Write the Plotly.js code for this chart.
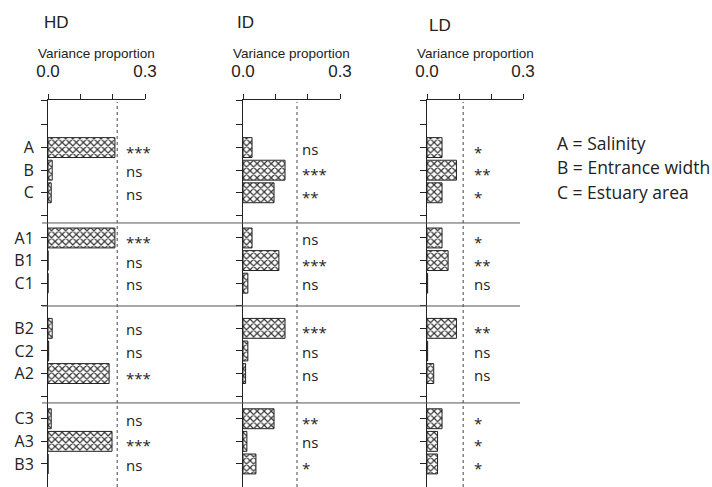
<!DOCTYPE html>
<html>
<head>
<meta charset="utf-8">
<script src="https://cdn.plot.ly/plotly-3.0.1.min.js"></script>
<style>html,body{margin:0;padding:0;background:#fff;}#chart{width:712px;height:487px;}</style>
</head>
<body>
<div id="chart"></div>
<script>
// ---- data ----
const groups = [["A","B","C"],["A1","B1","C1"],["B2","C2","A2"],["C3","A3","B3"]];
const panelNames = ["HD","ID","LD"];
const hdValues = [0.207, 0.013, 0.010, 0.207, 0, 0, 0.013, 0.002, 0.189, 0.010, 0.198, 0];
const idValues = [0.028, 0.130, 0.096, 0.028, 0.111, 0.015, 0.130, 0.015, 0.008, 0.096, 0.012, 0.040];
const ldValues = [0.047, 0.092, 0.047, 0.047, 0.066, 0.002, 0.092, 0.002, 0.021, 0.047, 0.033, 0.033];
const hdSig = ["***","ns","ns","***","ns","ns","ns","ns","***","ns","***","ns"];
const idSig = ["ns","***","**","ns","***","ns","***","ns","ns","**","ns","*"];
const ldSig = ["*","**","*","*","**","ns","**","ns","ns","*","*","*"];
const thresholds = [0.214, 0.167, 0.113];
const xTickVals = [0, 0.1, 0.2, 0.3];
const xTickText = ["0.0", "", "", "0.3"];
const axisTitle = "Variance proportion";
const legendLines = ["A = Salinity", "B = Entrance width", "C = Estuary area"];

// ---- layout helpers ----
const W = 712, H = 487;
const rowLabels = groups.flat();
const slots = rowLabels.map((_, k) => Math.floor(k / 3) * 4 + 1 + (k % 3));
const nSlots = groups.length * 4;
const yTop = -1.106, yBottom = 16.02;
const yTickVals = [yTop];
const yTickText = [""];
for (let s = 0; s < nSlots; s++) {
  yTickVals.push(s);
  const idx = slots.indexOf(s);
  yTickText.push(idx >= 0 ? rowLabels[idx] : "");
}
const valuesList = [hdValues, idValues, ldValues];
const sigList = [hdSig, idSig, ldSig];
const xDomainsPx = [[48, 145], [243, 340], [427, 523]];
const sigOffsetPx = [76, 57, 45];
const titlePos = [[42, 22], [235, 23], [427, 26]];
const sepSlots = [4.336, 8.01, 12.3];

const INK = "#222";
const traces = [];
const annotations = [];
const shapes = [];
const layout = {
  width: W, height: H,
  margin: {l: 0, r: 0, t: 100, b: 0},
  paper_bgcolor: "#fff", plot_bgcolor: "rgba(0,0,0,0)",
  showlegend: false,
  font: {family: "Open Sans, sans-serif", color: INK}
};

valuesList.forEach((vals, p) => {
  const xs = p === 0 ? "" : String(p + 1);
  const xName = "x" + xs, yName = "y" + xs;
  const scale = (xDomainsPx[p][1] - xDomainsPx[p][0]) / 0.3;
  traces.push({
    type: "bar", orientation: "h",
    x: vals, y: slots,
    xaxis: xName, yaxis: yName,
    width: 0.88,
    marker: {
      color: "#fff",
      line: {color: INK, width: 1},
      pattern: {shape: "x", size: 5, solidity: 0.42, fgcolor: "#333", bgcolor: "#fff"}
    },
    hoverinfo: "skip"
  });
  layout["xaxis" + xs] = {
    domain: [xDomainsPx[p][0] / W, xDomainsPx[p][1] / W],
    range: [0, 0.3], anchor: yName, side: "top",
    tickvals: xTickVals, ticktext: xTickText,
    ticks: "outside", ticklen: 5, tickcolor: INK, tickwidth: 1,
    ticklabelstandoff: 10,
    tickfont: {family: "Liberation Sans, Arial, sans-serif", size: 17, color: INK},
    showline: true, linecolor: INK, linewidth: 1,
    showgrid: false, zeroline: false, fixedrange: true
  };
  layout["yaxis" + xs] = {
    domain: [0, 1], range: [yBottom, yTop], anchor: xName,
    tickvals: yTickVals, ticktext: p === 0 ? yTickText : yTickVals.map(() => ""),
    ticks: "outside", ticklen: 6, tickcolor: INK, tickwidth: 1,
    ticklabelstandoff: 4,
    tickfont: {family: "Open Sans, sans-serif", size: 16, color: INK},
    showline: true, linecolor: INK, linewidth: 1,
    showgrid: false, zeroline: false, fixedrange: true
  };
  // threshold dashed line
  shapes.push({
    type: "line", xref: xName, yref: "paper",
    x0: thresholds[p], x1: thresholds[p], y0: 0, y1: 0.995,
    line: {color: "#444", width: 1, dash: "3px,3px"}
  });
  // significance labels
  sigList[p].forEach((s, k) => {
    const isStar = s.indexOf("*") >= 0;
    annotations.push({
      xref: xName, yref: "y", x: sigOffsetPx[p] / scale, y: slots[k],
      xanchor: "left", yanchor: "middle", showarrow: false,
      text: s, yshift: isStar ? -4 : -1,
      font: {family: "Open Sans, sans-serif", size: 15, color: INK}
    });
  });
  // axis title
  annotations.push({
    xref: "paper", yref: "paper",
    x: (xDomainsPx[p][0] + xDomainsPx[p][1]) / 2 / W, y: 1 + (100 - 53) / 387,
    xanchor: "center", yanchor: "middle", showarrow: false,
    text: axisTitle,
    font: {family: "Liberation Sans, Arial, sans-serif", size: 13.5, color: INK}
  });
  // panel title
  annotations.push({
    xref: "paper", yref: "paper",
    x: titlePos[p][0] / W, y: 1 + (100 - titlePos[p][1]) / 387,
    xanchor: "left", yanchor: "middle", showarrow: false,
    text: panelNames[p],
    font: {family: "Liberation Sans, Arial, sans-serif", size: 17, color: INK}
  });
});

sepSlots.forEach(s => {
  shapes.push({
    type: "line", xref: "paper", yref: "y",
    x0: 42 / W, x1: 520 / W, y0: s, y1: s,
    line: {color: "#555", width: 1}
  });
});

legendLines.forEach((t, i) => {
  annotations.push({
    xref: "paper", yref: "paper",
    x: 555 / W, y: 1 - ([143, 167, 192][i] - 100) / 387,
    xanchor: "left", yanchor: "middle", showarrow: false,
    text: t,
    font: {family: "Open Sans, sans-serif", size: 17.5, color: INK}
  });
});

layout.annotations = annotations;
layout.shapes = shapes;

Plotly.newPlot("chart", traces, layout, {staticPlot: true, displayModeBar: false});
</script>
</body>
</html>
